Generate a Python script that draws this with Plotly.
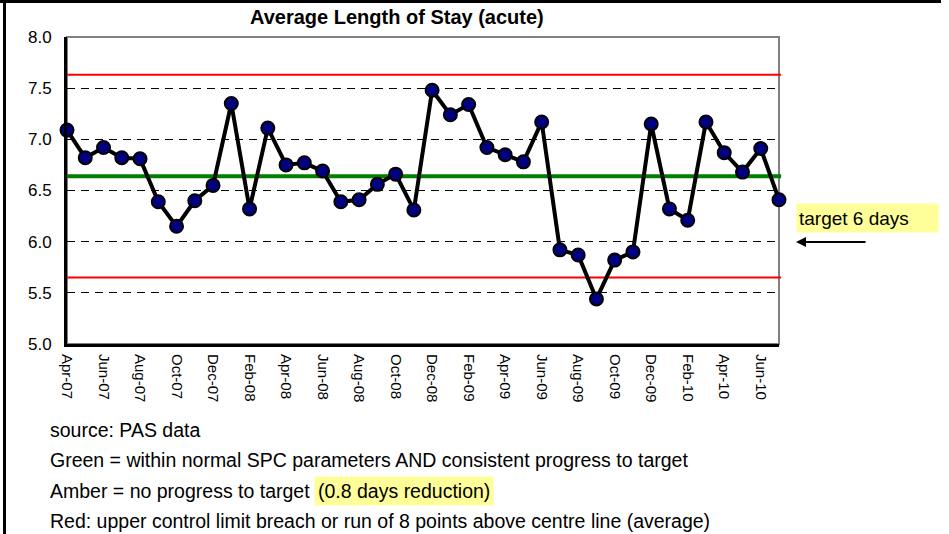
import plotly.graph_objects as go

# ---- data ----
months = ["Apr-07", "May-07", "Jun-07", "Jul-07", "Aug-07", "Sep-07", "Oct-07", "Nov-07", "Dec-07", "Jan-08",
          "Feb-08", "Mar-08", "Apr-08", "May-08", "Jun-08", "Jul-08", "Aug-08", "Sep-08", "Oct-08", "Nov-08",
          "Dec-08", "Jan-09", "Feb-09", "Mar-09", "Apr-09", "May-09", "Jun-09", "Jul-09", "Aug-09", "Sep-09",
          "Oct-09", "Nov-09", "Dec-09", "Jan-10", "Feb-10", "Mar-10", "Apr-10", "May-10", "Jun-10", "Jul-10"]
alos = [7.09, 6.82, 6.92, 6.82, 6.81, 6.39, 6.15, 6.40, 6.55, 7.35,
        6.32, 7.11, 6.75, 6.77, 6.69, 6.39, 6.41, 6.56, 6.66, 6.31,
        7.48, 7.24, 7.34, 6.92, 6.85, 6.78, 7.17, 5.92, 5.87, 5.44,
        5.82, 5.90, 7.15, 6.32, 6.21, 7.17, 6.87, 6.68, 6.91, 6.41]
tick_labels = months[::2]
centre_line = 6.64
upper_limit = 7.63
lower_limit = 5.65
y_ticks = [5.0, 5.5, 6.0, 6.5, 7.0, 7.5, 8.0]

title_text = "Average Length of Stay (acute)"
target_text = "target 6 days"
footer_lines = [
    "source: PAS data",
    "Green = within normal SPC parameters AND consistent progress to target",
    "Amber = no progress to target",
    "Red: upper control limit breach or run of 8 points above centre line (average)",
]
amber_highlight = "(0.8 days reduction)"

# ---- layout geometry (pixels) ----
W, H = 949, 534
L, R, T, B = 67, 170, 37, 190
PW, PH = W - L - R, H - T - B


def px_x(px):
    return (px - L) / PW


def px_y(py):
    return (H - B - py) / PH


ARIAL = "Liberation Sans, Arial, sans-serif"
FOOT = 19.5

fig = go.Figure()

fig.add_trace(go.Scatter(
    x=months, y=alos, mode="lines+markers",
    line=dict(color="black", width=4),
    marker=dict(color="#000080", size=13, line=dict(color="black", width=2)),
    cliponaxis=False, showlegend=False, hoverinfo="skip",
))

shapes = []
shapes.append(dict(type="rect", xref="paper", yref="paper", x0=0, x1=1, y0=0, y1=1,
                   line=dict(color="#808080", width=2), layer="below"))
for val, col, wd in [(upper_limit, "red", 2), (lower_limit, "red", 2), (centre_line, "#008000", 4)]:
    shapes.append(dict(type="line", xref="paper", yref="y", x0=0, x1=1.003, y0=val, y1=val,
                       line=dict(color=col, width=wd), layer="below"))
shapes.append(dict(type="line", xref="paper", yref="paper", x0=px_x(0), x1=px_x(941),
                   y0=px_y(1.5), y1=px_y(1.5), line=dict(color="black", width=3)))
shapes.append(dict(type="line", xref="paper", yref="paper", x0=px_x(4.5), x1=px_x(4.5),
                   y0=px_y(0), y1=px_y(534), line=dict(color="black", width=3)))

annotations = []
annotations.append(dict(text=f"<b>{title_text}</b>", xref="paper", yref="paper",
                        x=px_x(397), y=px_y(17), xanchor="center", yanchor="middle",
                        showarrow=False, font=dict(family=ARIAL, size=20, color="black")))
annotations.append(dict(text=target_text, xref="paper", yref="paper",
                        x=px_x(796), y=px_y(218), xanchor="left", yanchor="middle",
                        showarrow=False, bgcolor="#FFFF99", width=137, height=24, align="left",
                        borderpad=2, font=dict(family=ARIAL, size=19, color="black")))
annotations.append(dict(text="", xref="paper", yref="paper",
                        x=px_x(796), y=px_y(242), showarrow=True, ax=71, ay=0,
                        arrowhead=2, arrowsize=1, arrowwidth=2, arrowcolor="black"))
foot_y = [430, 460, 491, 521]
for txt, yy in zip(footer_lines, foot_y):
    annotations.append(dict(text=txt, xref="paper", yref="paper",
                            x=px_x(48), y=px_y(yy), xanchor="left", yanchor="middle",
                            showarrow=False, font=dict(family=ARIAL, size=FOOT, color="black")))
annotations.append(dict(text=amber_highlight, xref="paper", yref="paper",
                        x=px_x(314), y=px_y(491), xanchor="left", yanchor="middle",
                        showarrow=False, bgcolor="#FFFF99", borderpad=3,
                        font=dict(family=ARIAL, size=FOOT, color="black")))

fig.update_layout(
    width=W, height=H,
    margin=dict(l=L, r=R, t=T, b=B, pad=0),
    paper_bgcolor="white", plot_bgcolor="white",
    shapes=shapes, annotations=annotations,
    xaxis=dict(type="category", categoryorder="array", categoryarray=months,
               range=[0, len(months) - 1], tickmode="array", tickvals=tick_labels,
               ticktext=tick_labels, tickangle=90, showgrid=False, zeroline=False,
               showline=True, linecolor="black", linewidth=3, ticks="",
               tickfont=dict(family=ARIAL, size=15, color="black"), ticklabelstandoff=4),
    yaxis=dict(range=[5, 8], tickvals=y_ticks, ticktext=[f"{v:.1f}" for v in y_ticks],
               showgrid=True, gridcolor="black", gridwidth=1, griddash="8px,6px",
               zeroline=False, showline=True, linecolor="black", linewidth=3, ticks="",
               tickfont=dict(family=ARIAL, size=17, color="black"), ticklabelstandoff=9),
)

fig.write_html("out.html", config={"displayModeBar": False},
               post_script="document.body.style.margin='0px';")
